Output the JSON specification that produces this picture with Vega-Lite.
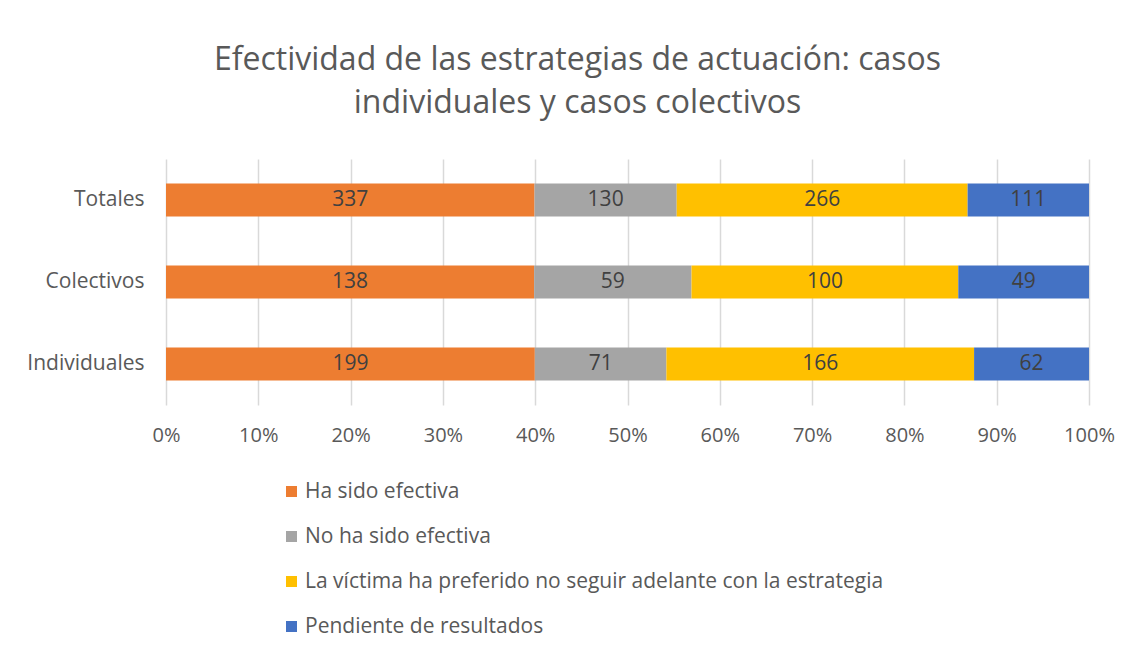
{
  "$schema": "https://vega.github.io/schema/vega-lite/v6.json",
  "autosize": {"type": "none"},
  "padding": {"left": 166, "top": 159, "right": 42, "bottom": 247},
  "width": 923,
  "height": 246,
  "background": "white",
  "config": {"view": {"stroke": null}},
  "title": {
    "text": ["Efectividad de las estrategias de actuación: casos", "individuales y casos colectivos"],
    "font": "Open Sans",
    "fontSize": 32,
    "fontWeight": "normal",
    "color": "#595959",
    "anchor": "middle",
    "frame": "group",
    "dx": -50,
    "lineHeight": 43,
    "offset": 39
  },
  "data": {
    "values": [
      {"grupo": "Totales", "estado": "Ha sido efectiva", "orden": 1, "casos": 337},
      {"grupo": "Totales", "estado": "No ha sido efectiva", "orden": 2, "casos": 130},
      {"grupo": "Totales", "estado": "La víctima ha preferido no seguir adelante con la estrategia", "orden": 3, "casos": 266},
      {"grupo": "Totales", "estado": "Pendiente de resultados", "orden": 4, "casos": 111},
      {"grupo": "Colectivos", "estado": "Ha sido efectiva", "orden": 1, "casos": 138},
      {"grupo": "Colectivos", "estado": "No ha sido efectiva", "orden": 2, "casos": 59},
      {"grupo": "Colectivos", "estado": "La víctima ha preferido no seguir adelante con la estrategia", "orden": 3, "casos": 100},
      {"grupo": "Colectivos", "estado": "Pendiente de resultados", "orden": 4, "casos": 49},
      {"grupo": "Individuales", "estado": "Ha sido efectiva", "orden": 1, "casos": 199},
      {"grupo": "Individuales", "estado": "No ha sido efectiva", "orden": 2, "casos": 71},
      {"grupo": "Individuales", "estado": "La víctima ha preferido no seguir adelante con la estrategia", "orden": 3, "casos": 166},
      {"grupo": "Individuales", "estado": "Pendiente de resultados", "orden": 4, "casos": 62}
    ]
  },
  "transform": [
    {"stack": "casos", "groupby": ["grupo"], "sort": [{"field": "orden", "order": "ascending"}], "offset": "normalize", "as": ["x0", "x1"]},
    {"calculate": "(datum.x0 + datum.x1) / 2", "as": "xm"}
  ],
  "encoding": {
    "y": {
      "field": "grupo",
      "type": "nominal",
      "sort": ["Totales", "Colectivos", "Individuales"],
      "scale": {"paddingInner": 0.6, "paddingOuter": 0.3},
      "axis": {
        "title": null,
        "domain": false,
        "ticks": false,
        "grid": false,
        "labelFont": "Open Sans",
        "labelFontSize": 21,
        "labelColor": "#595959",
        "labelPadding": 22
      }
    }
  },
  "layer": [
    {
      "mark": {"type": "bar"},
      "encoding": {
        "x": {
          "field": "x0",
          "type": "quantitative",
          "scale": {"domain": [0, 1], "nice": false},
          "axis": {
            "title": null,
            "format": ".0%",
            "values": [0, 0.1, 0.2, 0.3, 0.4, 0.5, 0.6, 0.7, 0.8, 0.9, 1],
            "domain": false,
            "ticks": false,
            "grid": true,
            "gridColor": "#D9D9D9",
            "gridWidth": 1.5,
            "labelFlush": false,
            "labelFont": "Open Sans",
            "labelFontSize": 20,
            "labelColor": "#595959",
            "labelPadding": 20
          }
        },
        "x2": {"field": "x1"},
        "color": {
          "field": "estado",
          "type": "nominal",
          "scale": {
            "domain": ["Ha sido efectiva", "No ha sido efectiva", "La víctima ha preferido no seguir adelante con la estrategia", "Pendiente de resultados"],
            "range": ["#ED7D31", "#A5A5A5", "#FFC000", "#4472C4"]
          },
          "legend": {
            "title": null,
            "orient": "none",
            "direction": "vertical",
            "legendX": 115,
            "legendY": 322,
            "symbolType": "square",
            "symbolSize": 121,
            "symbolStrokeWidth": 0,
            "labelFont": "Open Sans",
            "labelFontSize": 21,
            "labelColor": "#595959",
            "labelOffset": 3,
            "rowPadding": 23,
            "labelLimit": 800
          }
        }
      }
    },
    {
      "mark": {"type": "text", "font": "Open Sans", "fontSize": 21, "color": "#404040", "baseline": "middle", "align": "center"},
      "encoding": {
        "x": {"field": "xm", "type": "quantitative"},
        "text": {"field": "casos", "type": "quantitative"}
      }
    }
  ]
}
